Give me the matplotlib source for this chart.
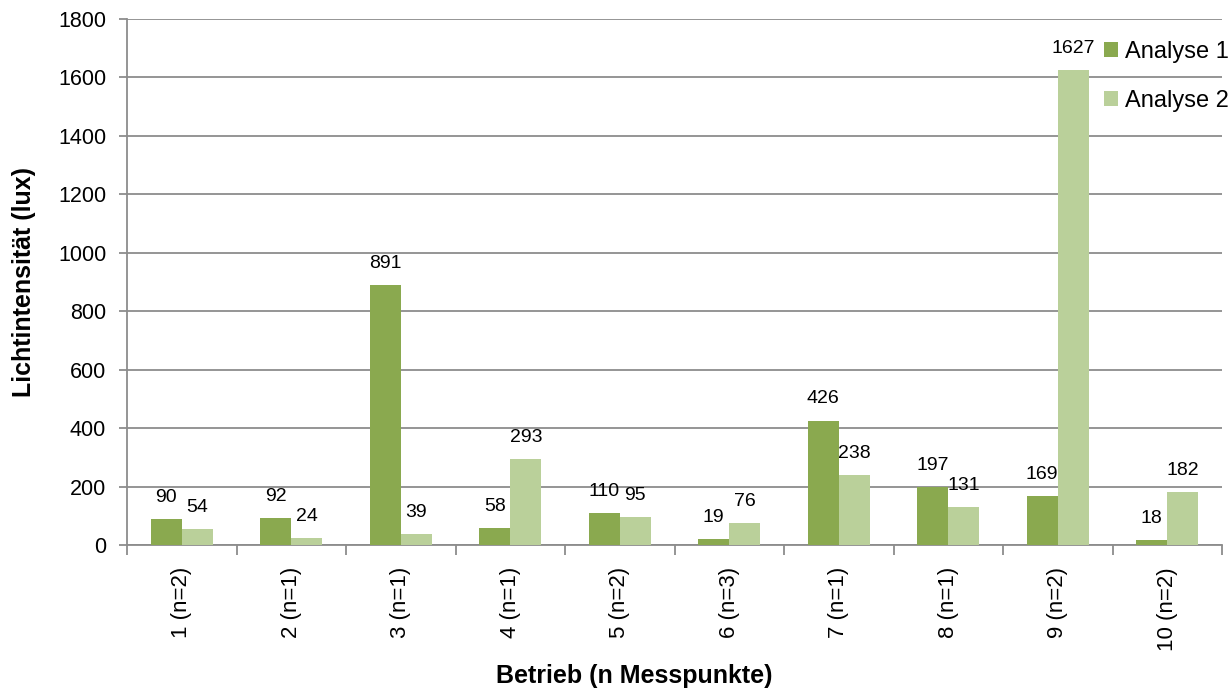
import matplotlib
matplotlib.use("Agg")
import matplotlib.pyplot as plt
import numpy as np

categories = ["1 (n=2)", "2 (n=1)", "3 (n=1)", "4 (n=1)", "5 (n=2)",
              "6 (n=3)", "7 (n=1)", "8 (n=1)", "9 (n=2)", "10 (n=2)"]
analyse1 = [90, 92, 891, 58, 110, 19, 426, 197, 169, 18]
analyse2 = [54, 24, 39, 293, 95, 76, 238, 131, 1627, 182]
yticks = [0, 200, 400, 600, 800, 1000, 1200, 1400, 1600, 1800]

c1 = "#8AA94F"
c2 = "#BAD09A"
grid = "#8C8C8C"

plt.rcParams['font.family'] = ['Liberation Sans', 'DejaVu Sans']
fig = plt.figure(figsize=(12.32, 6.88), dpi=100)
ax = fig.add_axes([127/1232, 1-545/688, (1222-127)/1232, (545-19)/688])

x = np.arange(len(categories))
w = 0.285
b1 = ax.bar(x - w/2, analyse1, w, color=c1, label="Analyse 1", zorder=3)
b2 = ax.bar(x + w/2, analyse2, w, color=c2, label="Analyse 2", zorder=3)

for rects, vals in ((b1, analyse1), (b2, analyse2)):
    for r, v in zip(rects, vals):
        ax.annotate(str(v), (r.get_x() + r.get_width()/2, v), xytext=(0, 15.5),
                    textcoords="offset points", ha="center", va="center",
                    fontsize=14, zorder=4)

ax.set_xlim(-0.5, len(categories) - 0.5)
ax.set_ylim(0, 1800)
ax.set_yticks(yticks)
ax.set_yticklabels([str(t) for t in yticks], fontsize=15.5)
ax.yaxis.grid(True, color=grid, linewidth=1.3, zorder=0)
ax.set_axisbelow(True)

ax.set_xticks(x)
ax.set_xticklabels(categories, rotation=90, fontsize=16)
ax.tick_params(axis='x', which='major', length=0, pad=16)
ax.set_xticks(np.arange(-0.5, len(categories)), minor=True)
ax.tick_params(axis='x', which='minor', length=7, color=grid, width=1.3)
ax.tick_params(axis='y', length=6, color=grid, width=1.3, pad=9)

for s in ("top", "right"):
    ax.spines[s].set_visible(False)
for s in ("left", "bottom"):
    ax.spines[s].set_color(grid)
    ax.spines[s].set_linewidth(1.3)

ax.set_ylabel("Lichtintensität (lux)", fontsize=18, fontweight="bold", labelpad=16)
fig.text(634/1232, 1-676/688, "Betrieb (n Messpunkte)", fontsize=18,
         fontweight="bold", ha="center", va="center")

fig.legend(loc="upper left", bbox_to_anchor=(1104/1232, 1-41/688), frameon=False,
           fontsize=17, handlelength=0.6, handleheight=0.6, handletextpad=0.3,
           labelspacing=1.15, borderaxespad=0, borderpad=0)

fig.savefig("out.png", dpi=100)
